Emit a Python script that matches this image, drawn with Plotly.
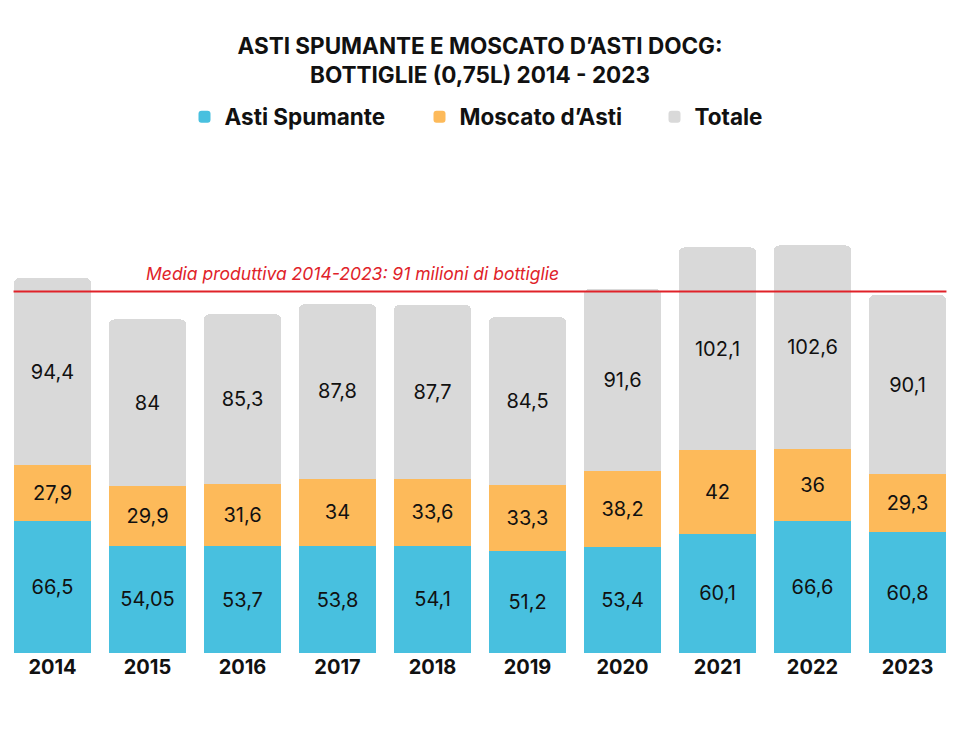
import plotly.graph_objects as go

anni = ["2014", "2015", "2016", "2017", "2018", "2019", "2020", "2021", "2022", "2023"]
asti_spumante = [66.5, 54.05, 53.7, 53.8, 54.1, 51.2, 53.4, 60.1, 66.6, 60.8]
moscato_asti = [27.9, 29.9, 31.6, 34, 33.6, 33.3, 38.2, 42, 36, 29.3]
totale = [94.4, 84, 85.3, 87.8, 87.7, 84.5, 91.6, 102.1, 102.6, 90.1]
media = 91
media_label = "Media produttiva 2014-2023: 91 milioni di bottiglie"

def fmt(v):
    return f"{v:g}".replace(".", ",")

BLUE = "#48C0DF"
ORANGE = "#FDBA5A"
GREY = "#D9D9D9"
RED = "#E02229"
FONT = "Inter"

fig = go.Figure()
for name, vals, col in [("Asti Spumante", asti_spumante, BLUE),
                        ("Moscato d’Asti", moscato_asti, ORANGE),
                        ("Totale", totale, GREY)]:
    fig.add_trace(go.Bar(
        x=anni, y=vals, name=name,
        marker=dict(color=col, line=dict(width=0)),
        text=[fmt(v) for v in vals],
        textposition="inside", insidetextanchor="middle", textangle=0,
        textfont=dict(family=FONT, size=20, color="#111111"),
        constraintext="none",
        hoverinfo="skip",
    ))

# average line: stack height of a year = components + total = 2 * total
fig.add_shape(type="line", xref="x", yref="y",
              x0=-0.41, x1=len(anni) - 1 + 0.41, y0=2 * media, y1=2 * media,
              line=dict(color=RED, width=2))
fig.add_annotation(xref="paper", yref="y", x=0.146, y=2 * media,
                   xanchor="left", yanchor="bottom", yshift=5,
                   text=f"<i>{media_label}</i>", showarrow=False,
                   font=dict(family=FONT, size=17.5, color=RED))

fig.update_layout(
    width=960, height=740,
    paper_bgcolor="white", plot_bgcolor="white",
    barmode="stack", bargap=0.18, barcornerradius=6,
    margin=dict(l=5, r=5, t=140, b=87),
    title=dict(text="ASTI SPUMANTE E MOSCATO D’ASTI DOCG:<br>BOTTIGLIE (0,75L) 2014 - 2023",
               x=0.5, xanchor="center", yref="container", y=1 - 54 / 740, yanchor="top",
               font=dict(family=FONT, size=22.5, color="#111111", weight="bold")),
    legend=dict(orientation="h", x=0.56, xanchor="center",
                yref="container", y=1 - 117 / 740, yanchor="middle",
                font=dict(family=FONT, size=22.5, color="#111111", weight="bold"),
                entrywidth=190,
                traceorder="normal", itemclick=False, itemdoubleclick=False),
    xaxis=dict(showgrid=False, showline=False, zeroline=False, ticks="",
               tickfont=dict(family=FONT, size=20, color="#111111", weight="bold")),
    yaxis=dict(visible=False, range=[0, 256.5]),
    showlegend=True,
)

fig.write_html("out.html", config={"displayModeBar": False},
               post_script="document.body.style.margin='0';")
